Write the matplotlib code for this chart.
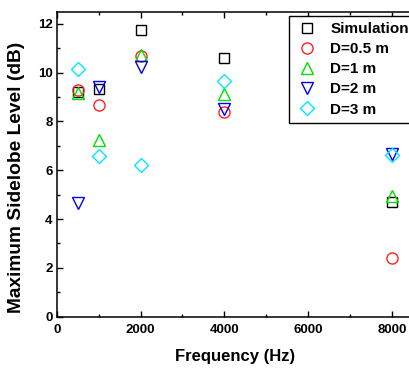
import matplotlib
matplotlib.use("Agg")
import matplotlib.pyplot as plt
from matplotlib.ticker import MultipleLocator

plt.rcParams['font.family'] = ['Liberation Sans', 'DejaVu Sans']
plt.rcParams['font.weight'] = 'bold'

freq = [500, 1000, 2000, 4000, 8000]
simulation = [9.2, 9.33, 11.74, 10.62, 4.69]
d05 = [9.28, 8.66, 10.67, 8.39, 2.42]
d1 = [9.17, 7.22, 10.73, 9.14, 4.93]
d2 = [4.65, 9.4, 10.22, 8.5, 6.65]
d3 = [10.13, 6.57, 6.2, 9.67, 6.61]

labels = ["Simulation", "D=0.5 m", "D=1 m", "D=2 m", "D=3 m"]

fig = plt.figure(figsize=(4.10, 3.68), dpi=100)
ax = fig.add_axes([0.1383, 0.1394, 0.869, 0.829])

ax.plot(freq, simulation, ls='none', marker='s', ms=7, mfc='none', mec='black', mew=1.0, label=labels[0])
ax.plot(freq, d05, ls='none', marker='o', ms=8, mfc='none', mec='#ff2020', mew=1.0, label=labels[1])
ax.plot(freq, d1, ls='none', marker='^', ms=9, mfc='none', mec='#00e000', mew=1.0, label=labels[2])
ax.plot(freq, d2, ls='none', marker='v', ms=9, mfc='none', mec='#0000ee', mew=1.0, label=labels[3])
ax.plot(freq, d3, ls='none', marker='D', ms=7.5, mfc='none', mec='#00e8ff', mew=1.0, label=labels[4])

ax.set_xlim(0, 8500)
ax.set_ylim(0, 12.5)
ax.xaxis.set_major_locator(MultipleLocator(2000))
ax.xaxis.set_minor_locator(MultipleLocator(1000))
ax.yaxis.set_major_locator(MultipleLocator(2))
ax.yaxis.set_minor_locator(MultipleLocator(1))
ax.tick_params(which='both', direction='in', top=True, right=False, width=1.0, labelsize=9.5)
ax.tick_params(axis='x', pad=5)
ax.tick_params(axis='y', pad=3)
ax.tick_params(which='major', length=4.5)
ax.tick_params(which='minor', length=2.5)
for lab in ax.get_xticklabels() + ax.get_yticklabels():
    lab.set_fontweight('bold')
for s in ax.spines.values():
    s.set_linewidth(1.1)
ax.spines['right'].set_visible(False)

ax.set_xlabel("Frequency (Hz)", fontsize=12, fontweight='bold')
ax.xaxis.set_label_coords(0.502, -0.106)
ax.set_ylabel("Maximum Sidelobe Level (dB)", fontsize=13.8, fontweight='bold')
ax.yaxis.set_label_coords(-0.089, 0.458)

leg = ax.legend(loc='upper left', bbox_to_anchor=(289/410, 1 - 16/368), bbox_transform=fig.transFigure,
                borderaxespad=0, fontsize=11, labelspacing=0.4, handlelength=1.5, handletextpad=0.8,
                fancybox=False, edgecolor='black', framealpha=1, borderpad=0.4)
leg.get_frame().set_linewidth(1.0)
for t in leg.get_texts():
    t.set_fontweight('bold')

fig.savefig("out.png", dpi=100)
